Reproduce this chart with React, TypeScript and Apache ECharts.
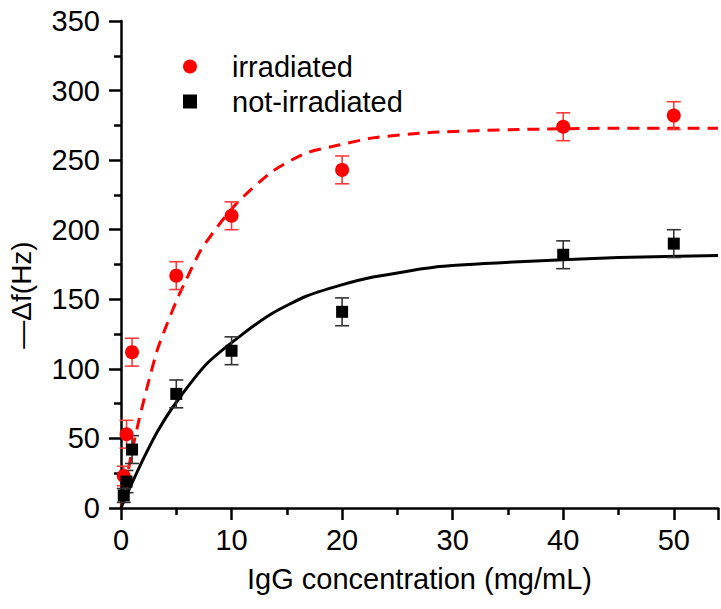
import React, { useEffect, useRef } from "react";
import * as echarts from "echarts";

const concentrations = [0.25, 0.5, 1, 5, 10, 20, 40, 50];
const irradiated = [23, 53, 112, 167, 210, 243, 274, 282];
const irradiatedErr = [7, 10, 10, 10, 10, 10, 10, 10];
const notIrradiated = [9, 19, 42, 82, 113, 141, 182, 190];
const notIrradiatedErr = [5, 8, 10, 10, 10, 10, 10, 10];

// fitted curves
const fitIrradiatedX = [0, 0.5, 1, 1.65, 2.5, 3.3, 4.2, 5.3, 7.2, 9, 10.7, 13.7, 16.7, 19.8, 22.8, 28.2, 36, 45, 54];
const fitIrradiatedY = [0, 21, 41, 64, 91, 114, 133, 154, 185, 205, 221, 242, 255, 261, 266, 270, 272, 273, 273];
const fitNotIrrX = [0, 1, 2, 3.3, 5, 7.8, 11, 13.7, 16.7, 19.8, 22.8, 28.8, 36, 45, 54];
const fitNotIrrY = [0, 18, 35, 55, 76, 104, 125, 140, 152, 160, 166, 173.5, 177, 180, 181.5];

const xTicks = ["0", "10", "20", "30", "40", "50"];
const yTicks = ["0", "50", "100", "150", "200", "250", "300", "350"];

const FONT = "'Liberation Sans', Arial, sans-serif";

function errorBar(color: string) {
  return (params: any, api: any) => {
    const x = api.value(0);
    const y = api.value(1);
    const e = api.value(2);
    const top = api.coord([x, y + e]);
    const bot = api.coord([x, y - e]);
    const hw = 7;
    const style = { stroke: color, lineWidth: 1.6 };
    return {
      type: "group",
      children: [
        { type: "line", shape: { x1: top[0], y1: top[1], x2: bot[0], y2: bot[1] }, style },
        { type: "line", shape: { x1: top[0] - hw, y1: top[1], x2: top[0] + hw, y2: top[1] }, style },
        { type: "line", shape: { x1: bot[0] - hw, y1: bot[1], x2: bot[0] + hw, y2: bot[1] }, style },
      ],
    };
  };
}

export default function App() {
  const ref = useRef<HTMLDivElement>(null);
  useEffect(() => {
    if (!ref.current) return;
    const chart = echarts.init(ref.current, null, { renderer: "svg" });
    const redPts = concentrations.map((x, i) => [x, irradiated[i]]);
    const blackPts = concentrations.map((x, i) => [x, notIrradiated[i]]);
    const redErr = concentrations.map((x, i) => [x, irradiated[i], irradiatedErr[i]]);
    const blackErr = concentrations.map((x, i) => [x, notIrradiated[i], notIrradiatedErr[i]]);
    const redFit = fitIrradiatedX.map((x, i) => [x, fitIrradiatedY[i]]);
    const blackFit = fitNotIrrX.map((x, i) => [x, fitNotIrrY[i]]);

    chart.setOption({
      animation: false,
      backgroundColor: "#ffffff",
      textStyle: { fontFamily: FONT },
      grid: { left: 121, right: 0, top: 21, bottom: 101, containLabel: false },
      legend: {
        orient: "vertical",
        left: 178,
        top: 46,
        itemWidth: 14,
        itemHeight: 14,
        itemGap: 4,
        selectedMode: false,
        textStyle: { fontSize: 29, fontFamily: FONT, color: "#000", padding: [0, 0, 0, 30], lineHeight: 31 },
        data: [
          { name: "irradiated", icon: "circle", itemStyle: { opacity: 1 } },
          { name: "not-irradiated", icon: "rect", itemStyle: { opacity: 1 } },
        ],
      },
      xAxis: {
        type: "value",
        min: 0,
        max: 54,
        interval: 10,
        axisLine: { show: true, onZero: false, lineStyle: { color: "#000", width: 2.5 } },
        axisTick: { show: true, inside: false, length: 12, lineStyle: { color: "#000", width: 2.5 } },
        minorTick: { show: true, splitNumber: 2, length: 7, lineStyle: { color: "#000", width: 2.5 } },
        splitLine: { show: false },
        axisLabel: {
          fontSize: 29,
          color: "#000",
          fontFamily: FONT,
          margin: 17,
          formatter: (v: number) => (xTicks.includes(String(v)) ? String(v) : ""),
        },
        name: "IgG concentration (mg/mL)",
        nameLocation: "middle",
        nameGap: 56,
        nameTextStyle: { fontSize: 29, color: "#000", fontFamily: FONT },
      },
      yAxis: {
        type: "value",
        min: 0,
        max: 350,
        interval: 50,
        axisLine: { show: true, onZero: false, lineStyle: { color: "#000", width: 2.5 } },
        axisTick: { show: true, inside: false, length: 12, lineStyle: { color: "#000", width: 2.5 } },
        minorTick: { show: true, splitNumber: 2, length: 7, lineStyle: { color: "#000", width: 2.5 } },
        splitLine: { show: false },
        axisLabel: {
          fontSize: 29,
          color: "#000",
          fontFamily: FONT,
          margin: 21,
          formatter: (v: number) => (yTicks.includes(String(v)) ? String(v) : ""),
        },
      },
      graphic: [
        {
          type: "text",
          x: 21,
          y: 295,
          rotation: Math.PI / 2,
          style: {
            text: "—Δf(Hz)",
            fontSize: 28,
            fontFamily: FONT,
            fill: "#000",
            textAlign: "center",
            textVerticalAlign: "middle",
          },
        },
      ],
      series: [
        {
          name: "irradiated fit",
          type: "line",
          data: redFit,
          smooth: 0.2,
          showSymbol: false,
          silent: true,
          lineStyle: { color: "#ff0000", width: 3, type: [12, 8] },
          z: 2,
        },
        {
          name: "not-irradiated fit",
          type: "line",
          data: blackFit,
          smooth: 0.2,
          showSymbol: false,
          silent: true,
          lineStyle: { color: "#000000", width: 3 },
          z: 2,
        },
        {
          name: "irradiated err",
          type: "custom",
          data: redErr,
          encode: { x: 0, y: 1 },
          renderItem: errorBar("#ff3a3a"),
          z: 3,
        },
        {
          name: "not-irradiated err",
          type: "custom",
          data: blackErr,
          encode: { x: 0, y: 1 },
          renderItem: errorBar("#333333"),
          z: 3,
        },
        {
          name: "irradiated",
          type: "scatter",
          data: redPts,
          symbol: "circle",
          symbolSize: 14,
          itemStyle: { color: "#ff0000", opacity: 1 },
          z: 5,
        },
        {
          name: "not-irradiated",
          type: "scatter",
          data: blackPts,
          symbol: "rect",
          symbolSize: 12,
          itemStyle: { color: "#000000", opacity: 1 },
          z: 5,
        },
      ],
    });
    return () => chart.dispose();
  }, []);
  return (
    <div
      ref={ref}
      style={{ position: "fixed", left: 0, top: 0, width: 721, height: 609, background: "#fff" }}
    />
  );
}
